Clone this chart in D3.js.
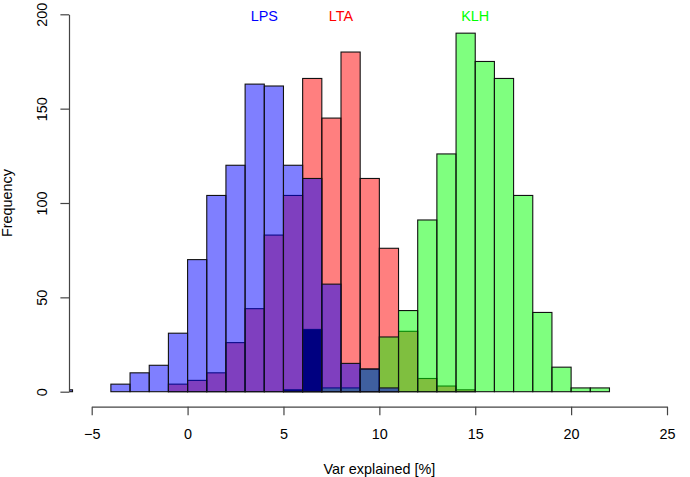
<!DOCTYPE html>
<html>
<head>
<meta charset="utf-8">
<script src="https://cdn.jsdelivr.net/npm/d3@7"></script>
<style>
  html, body { margin: 0; padding: 0; background: #fff; }
  svg { display: block; font-family: "Liberation Sans", Arial, Helvetica, sans-serif; }
</style>
</head>
<body>
<svg id="chart" width="690" height="477"></svg>
<script>
// ---- data (bin width 1, counts per bin; first bin's left edge given) ----
const seriesNames = ["LPS", "LTA", "KLH"];
const lpsStart = -7;
const lpsCounts = [1, 0, 0, 4, 10, 14, 31, 70, 104, 120, 163, 162, 120, 113, 57, 15, 12, 2];
const ltaStart = -1;
const ltaCounts = [4, 6, 10, 26, 44, 83, 104, 166, 145, 180, 113, 76, 32, 7, 3, 1];
const klhStart = 7;
const klhCounts = [2, 2, 12, 29, 43, 91, 126, 190, 175, 166, 104, 42, 13, 2, 2];
const extraStart = 5;
const extraCounts = [1, 33];
const labelX = [4, 8, 15];
const labelY = 200;
const xTicks = [-5, 0, 5, 10, 15, 20, 25];
const yTicks = [0, 50, 100, 150, 200];

// ---- layout ----
const svg = d3.select("#chart");
const plotLeft = 69, plotBottom = 406.7;
const x = d3.scaleLinear().domain([-5, 25]).range([91.7, 667]);
const y = d3.scaleLinear().domain([0, 200]).range([391.7, 14.3]);
const fontSize = 14.4;

svg.append("defs").append("clipPath").attr("id", "plotclip")
  .append("rect").attr("x", plotLeft).attr("y", 0)
  .attr("width", 690 - plotLeft).attr("height", plotBottom);

function toBins(start, counts) {
  return counts.map((c, i) => ({ x0: start + i, x1: start + i + 1, n: c }));
}

const layers = [
  { data: toBins(ltaStart, ltaCounts), fill: "rgba(255,0,0,0.5)" },
  { data: toBins(klhStart, klhCounts), fill: "rgba(0,255,0,0.5)" },
  { data: toBins(extraStart, extraCounts), fill: "#000000" },
  { data: toBins(lpsStart, lpsCounts), fill: "rgba(0,0,255,0.5)" }
];

const plot = svg.append("g").attr("clip-path", "url(#plotclip)");
layers.forEach(L => {
  plot.append("g").selectAll("rect").data(L.data).join("rect")
    .attr("x", d => x(d.x0))
    .attr("width", d => x(d.x1) - x(d.x0))
    .attr("y", d => y(d.n))
    .attr("height", d => y(0) - y(d.n))
    .attr("fill", L.fill)
    .attr("stroke", "#111")
    .attr("stroke-width", 1.1);
});

// ---- axes ----
const axisColor = "#444";
const gx = svg.append("g").attr("transform", `translate(0,${plotBottom})`)
  .call(d3.axisBottom(x).tickValues(xTicks).tickSize(8.6).tickSizeOuter(0).tickPadding(0));
gx.selectAll("path, line").attr("stroke", axisColor).attr("stroke-width", 1.2);
gx.selectAll("text").attr("fill", "#000").attr("font-size", fontSize)
  .attr("font-family", "Liberation Sans, Arial, sans-serif")
  .attr("y", 439 - plotBottom).attr("dy", 0);

const gy = svg.append("g").attr("transform", `translate(${plotLeft},0)`)
  .call(d3.axisLeft(y).tickValues(yTicks).tickSize(8.6).tickSizeOuter(0));
gy.selectAll("path, line").attr("stroke", axisColor).attr("stroke-width", 1.2);
gy.selectAll("text").attr("fill", "#000").attr("font-size", fontSize)
  .attr("font-family", "Liberation Sans, Arial, sans-serif")
  .attr("transform", "rotate(-90)")
  .attr("text-anchor", "middle")
  .attr("x", 0).attr("y", -(plotLeft - 47)).attr("dy", 0);

// axis titles
svg.append("text").attr("x", x(10)).attr("y", 473.6)
  .attr("text-anchor", "middle").attr("font-size", fontSize)
  .text("Var explained [%]");
svg.append("text")
  .attr("transform", `translate(12.4,${y(100)}) rotate(-90)`)
  .attr("text-anchor", "middle").attr("font-size", fontSize)
  .text("Frequency");

// series labels
const labelColors = ["#0000ff", "#ff0000", "#00ff00"];
svg.append("g").selectAll("text").data(seriesNames).join("text")
  .attr("x", (d, i) => x(labelX[i]))
  .attr("y", y(labelY) + 6.3)
  .attr("text-anchor", "middle")
  .attr("font-size", fontSize)
  .attr("fill", (d, i) => labelColors[i])
  .text(d => d);
</script>
</body>
</html>
